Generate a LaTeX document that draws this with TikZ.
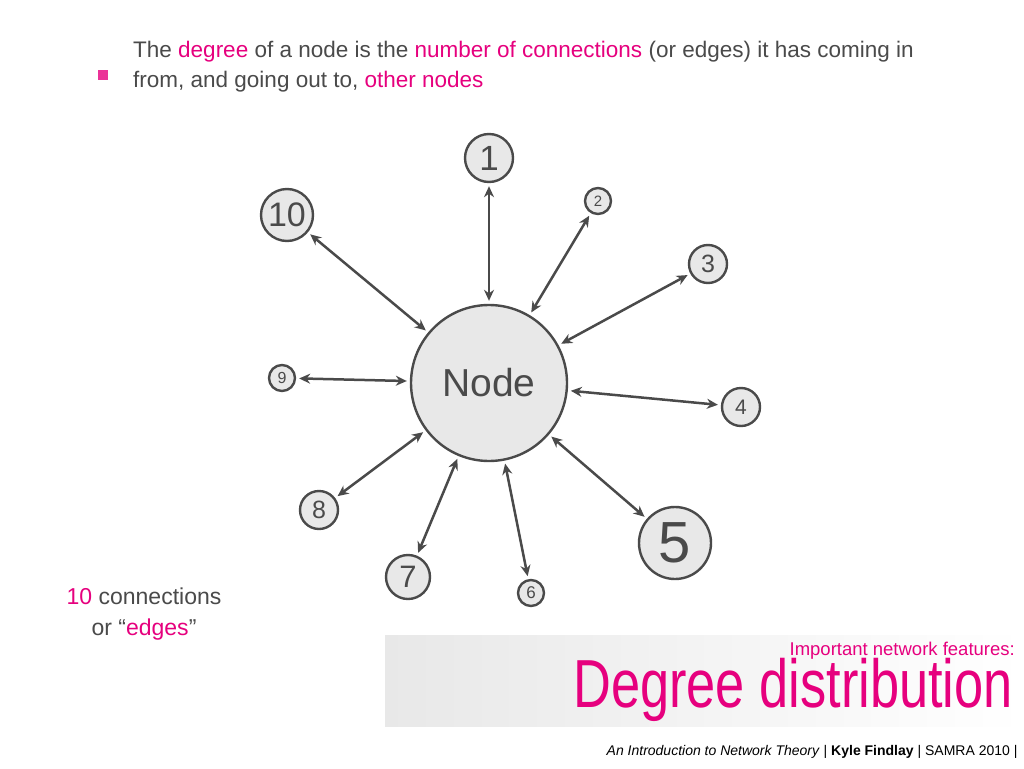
\documentclass[tikz,border=0pt]{standalone}
\usepackage{fontspec}
\setmainfont{Liberation Sans}
\usetikzlibrary{arrows.meta}
\definecolor{hot}{HTML}{E6007E}
\definecolor{ink}{HTML}{4A4A4A}
\definecolor{disc}{HTML}{E8E8E8}
\tikzset{
  vert/.style={circle,draw=ink,line width=2.4pt,fill=disc,text=ink,inner sep=0pt},
  link/.style={draw=ink,line width=2.5pt,{Stealth[length=11pt,width=10pt]}-{Stealth[length=11pt,width=10pt]},shorten <=3pt,shorten >=3pt},
  txt/.style={anchor=base west,text=ink,font=\fontsize{#1}{#1}\selectfont,inner sep=0pt}
}
\newcommand{\pk}[1]{\textcolor{hot}{#1}}
\begin{document}
\begin{tikzpicture}[x=1pt,y=-1pt]
  \useasboundingbox[fill=white] (0,0) rectangle (1024,768);
  % header
  \fill[hot!80] (98,70) rectangle ++(10,10);
  \node[txt=22.5] (head) at (133,57)
    {The \pk{degree} of a node is the \pk{number of connections} (or edges) it has coming in};
  \node[txt=22.5] (head2) at (133,87) {from, and going out to, \pk{other nodes}};
  % nodes
  \node[vert,minimum size=156pt,font=\fontsize{39}{39}\selectfont] (hub) at (489,383) {Node};
  \node[vert,minimum size=48pt,font=\fontsize{35}{35}\selectfont] (n1) at (489,158) {1};
  \node[vert,minimum size=26pt,font=\fontsize{15}{15}\selectfont] (n2) at (598,201) {2};
  \node[vert,minimum size=38pt,font=\fontsize{25}{25}\selectfont] (n3) at (708,264) {3};
  \node[vert,minimum size=38pt,font=\fontsize{21}{21}\selectfont] (n4) at (741,407) {4};
  \node[vert,minimum size=72pt,font=\fontsize{58}{58}\selectfont] (n5) at (675,543) {5};
  \node[vert,minimum size=26pt,font=\fontsize{17}{17}\selectfont] (n6) at (531,593) {6};
  \node[vert,minimum size=44pt,font=\fontsize{31}{31}\selectfont] (n7) at (408,577) {7};
  \node[vert,minimum size=38pt,font=\fontsize{25}{25}\selectfont] (n8) at (319,510) {8};
  \node[vert,minimum size=26pt,font=\fontsize{16}{16}\selectfont] (n9) at (282,378) {9};
  \node[vert,minimum size=52pt,font=\fontsize{34}{34}\selectfont] (n10) at (287,215) {10};
  \foreach \k in {1,...,10} \draw[link] (hub) -- (n\k);
  % side note
  \node[text=ink,font=\fontsize{23}{31}\selectfont,align=center] (note) at (144,614)
    {\pk{10} connections\\or “\pk{edges}”};
  % title bar
  \shade[left color=gray!18,right color=white] (385,635) rectangle (1024,726);
  \node[anchor=base east,text=hot,font=\fontsize{18.5}{18.5}\selectfont,inner sep=0pt] (sub) at (1015,655) {Important network features:};
  \node[anchor=base east,text=hot,font=\fontsize{68}{68}\selectfont,xscale=0.77,inner sep=0pt] (title) at (1013,707) {Degree distribution};
  \node[anchor=east,font=\fontsize{14}{14}\selectfont,text=black] (foot) at (1021,752)
    {\textit{An Introduction to Network Theory} | \textbf{Kyle Findlay} | SAMRA 2010 |};
\end{tikzpicture}
\end{document}
